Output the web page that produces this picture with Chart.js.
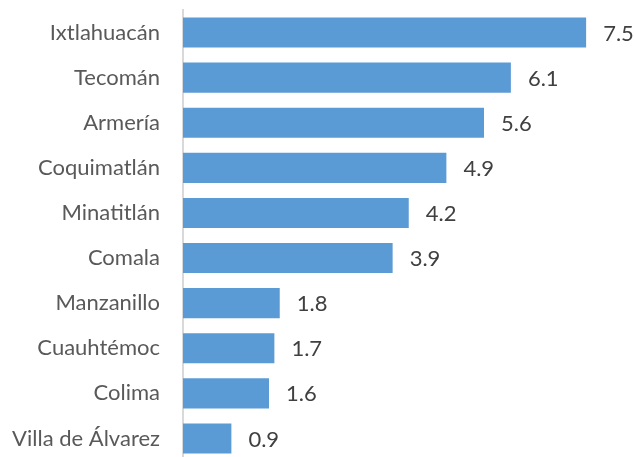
<!DOCTYPE html>
<html>
<head>
<meta charset="utf-8">
<script src="https://cdn.jsdelivr.net/npm/chart.js@4"></script>
<style>
  html, body { margin: 0; padding: 0; overflow: hidden; background: #fff; }
  #wrap { width: 634px; height: 461px; position: relative; }
</style>
</head>
<body>
<div id="wrap"><canvas id="chart"></canvas></div>
<script>
// Municipalities and their values
const municipios = ['Ixtlahuacán', 'Tecomán', 'Armería', 'Coquimatlán', 'Minatitlán',
                    'Comala', 'Manzanillo', 'Cuauhtémoc', 'Colima', 'Villa de Álvarez'];
const valores = [7.5, 6.1, 5.6, 4.9, 4.2, 3.9, 1.8, 1.7, 1.6, 0.9];

const FONT = 'Lato, "Liberation Sans", sans-serif';

// Draw value labels at the end of each bar
const valueLabels = {
    id: 'valueLabels',
    afterDatasetsDraw(chart) {
        const ctx = chart.ctx;
        const meta = chart.getDatasetMeta(0);
        ctx.save();
        ctx.font = '22px ' + FONT;
        ctx.fillStyle = '#404040';
        ctx.textAlign = 'left';
        ctx.textBaseline = 'middle';
        meta.data.forEach((bar, i) => {
            ctx.fillText(valores[i].toFixed(1), bar.x + 17, bar.y + 1);
        });
        ctx.restore();
    }
};

new Chart(document.getElementById('chart'), {
    type: 'bar',
    data: {
        labels: municipios,
        datasets: [{
            data: valores,
            backgroundColor: '#5b9bd5',
            borderWidth: 0,
            categoryPercentage: 0.667,
            barPercentage: 1.0
        }]
    },
    options: {
        indexAxis: 'y',
        responsive: true,
        maintainAspectRatio: false,
        animation: false,
        layout: { padding: { top: 10, right: 21, bottom: 0, left: 0 } },
        plugins: {
            legend: { display: false },
            tooltip: { enabled: false }
        },
        scales: {
            x: {
                display: false,
                min: 0,
                max: 8
            },
            y: {
                grid: { display: false, drawTicks: false },
                border: { display: true, color: '#d9d9d9', width: 2 },
                ticks: {
                    padding: 23,
                    color: '#595959',
                    font: { family: FONT, size: 22 }
                },
                afterFit(scale) {
                    scale.width = 183;
                    scale.paddingTop = 0;
                    scale.paddingBottom = 0;
                }
            }
        }
    },
    plugins: [valueLabels]
});
</script>
</body>
</html>
